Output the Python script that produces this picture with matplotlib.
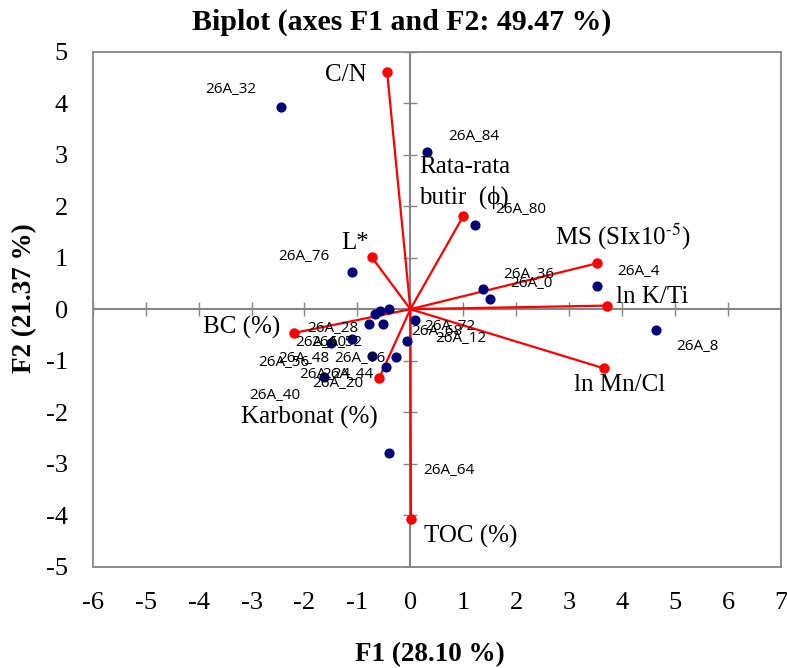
import numpy as np
import matplotlib.pyplot as plt

plt.rcParams['font.family'] = ['Liberation Serif', 'DejaVu Serif']
plt.rcParams['mathtext.fontset'] = 'stix'
plt.rcParams['axes.unicode_minus'] = False

# observations (F1, F2)
obs_names = ['26A_32', '26A_84', '26A_80', '26A_76', '26A_36', '26A_0', '26A_4', '26A_8', '26A_64',
             '26A_28', '26A_60', '26A_52', '26A_48', '26A_56', '26A_16', '26A_24', '26A_44',
             '26A_20', '26A_40', '26A_72', '26A_68', '26A_12']
obs_f1 = [-2.44, 0.31, 1.22, -1.10, 1.37, 1.50, 3.52, 4.63, -0.40,
          -0.79, -1.11, -0.52, -1.50, -0.72, -0.28, -1.64, -0.46,
          -0.66, -0.57, 0.09, -0.40, -0.06]
obs_f2 = [3.93, 3.05, 1.63, 0.72, 0.39, 0.20, 0.45, -0.40, -2.79,
          -0.28, -0.58, -0.29, -0.66, -0.90, -0.93, -1.32, -1.12,
          -0.10, -0.03, -0.20, 0.00, -0.61]
# where the observation labels sit
obs_lab_x = [-3.39, 1.20, 2.08, -2.01, 2.23, 2.28, 4.30, 5.43, 0.73,
             -1.46, -1.69, -1.39, -2.01, -2.39, -0.95, -1.61, -1.18,
             -1.37, -2.56, 0.75, 0.50, 0.96]
obs_lab_y = [4.26, 3.35, 1.93, 1.03, 0.68, 0.50, 0.73, -0.73, -3.14,
             -0.38, -0.64, -0.64, -0.95, -1.03, -0.95, -1.26, -1.26,
             -1.45, -1.67, -0.33, -0.44, -0.56]

# variables (loadings)
var_names = ['C/N', 'Rata-rata\nbutir  (ϕ)', 'L*', 'MS (SIx10$^{\u20105}$)', 'ln K/Ti',
             'ln Mn/Cl', 'BC (%)', 'Karbonat (%)', 'TOC (%)']
var_f1 = [-0.44, 1.00, -0.73, 3.52, 3.71, 3.66, -2.19, -0.59, 0.01]
var_f2 = [4.61, 1.81, 1.01, 0.89, 0.07, -1.15, -0.46, -1.34, -4.07]
var_lab_x = [-1.22, 0.16, -1.05, 4.01, 4.57, 3.96, -3.18, -1.91, 1.13]
var_lab_y = [4.55, 2.46, 1.29, 1.40, 0.24, -1.47, -0.35, -2.11, -4.42]
var_ha = ['center', 'left', 'center', 'center', 'center', 'center', 'center', 'center', 'center']

xticks = np.arange(-6, 8)
yticks = np.arange(-5, 6)

fig = plt.figure(figsize=(7.87, 6.68), dpi=100)
ax = fig.add_axes([92.7/787, 1-566.7/668, (781-92.7)/787, (566.7-51.7)/668])
grey = '#868686'

# axes through the origin with small cross ticks
ax.axhline(0, color=grey, lw=1.5, zorder=1)
ax.axvline(0, color=grey, lw=1.5, zorder=1)
ax.plot(xticks, np.zeros(len(xticks)), '|', color=grey, ms=10, mew=1, zorder=1)
ax.plot(np.zeros(len(yticks)), yticks, '_', color=grey, ms=10, mew=1, zorder=1)

for x, y in zip(var_f1, var_f2):
    ax.plot([0, x], [0, y], color='red', lw=1.6, zorder=2)
ax.plot(var_f1, var_f2, 'o', color='red', ms=6.5, zorder=4)
ax.plot(obs_f1, obs_f2, 'o', color='#00007a', ms=6.3, zorder=3)

for name, x, y in zip(obs_names, obs_lab_x, obs_lab_y):
    ax.text(x, y, name, fontsize=11, family=['Open Sans', 'DejaVu Sans'],
            ha='center', va='center', zorder=5)

for name, x, y, ha in zip(var_names, var_lab_x, var_lab_y, var_ha):
    ax.text(x, y, name, fontsize=18, ha=ha, va='center', linespacing=1.45, zorder=5)

ax.set_xlim(-6, 7)
ax.set_ylim(-5, 5)
ax.set_xticks(xticks)
ax.set_yticks(yticks)
ax.tick_params(length=0, labelsize=19, pad=18)
for s in ax.spines.values():
    s.set_color(grey)
    s.set_linewidth(1.3)

fig.text(402/787, 1-22/668, 'Biplot (axes F1 and F2: 49.47 %)', fontsize=21.5,
         fontweight='bold', ha='center', va='center')
fig.text(430/787, 1-655/668, 'F1 (28.10 %)', fontsize=19.5, fontweight='bold',
         ha='center', va='center')
fig.text(25/787, 1-298/668, 'F2 (21.37 %)', fontsize=19.5, fontweight='bold',
         ha='center', va='center', rotation=90)

plt.savefig('out.png', dpi=100)
